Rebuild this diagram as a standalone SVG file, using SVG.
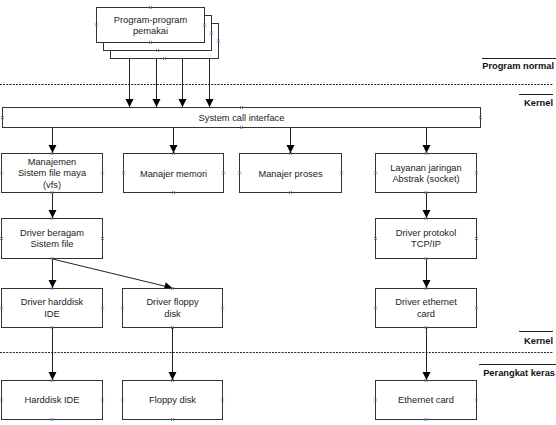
<svg xmlns="http://www.w3.org/2000/svg" xmlns:xlink="http://www.w3.org/1999/xlink" width="556" height="425" viewBox="0 0 556 425">
<style>
  .box{fill:#fff;stroke:#333;stroke-width:1}
  .t{font-family:"Liberation Sans",Arial,sans-serif;font-size:9.3px;fill:#222;text-anchor:middle}
  .lbl{font-family:"Liberation Sans",Arial,sans-serif;font-size:9.3px;font-weight:bold;fill:#111;text-anchor:end}
  .con{stroke:#222;stroke-width:1;fill:none}
  .dot{stroke:#222;stroke-width:1;stroke-dasharray:2 1.2;fill:none}
  .rule{stroke:#222;stroke-width:1}
  .cp{stroke:#6a6ad8;stroke-width:0.8;fill:none}
</style>
<defs>
  <marker id="ah" markerUnits="userSpaceOnUse" markerWidth="10" markerHeight="10" viewBox="0 0 10 10" refX="9" refY="5" orient="auto">
    <path d="M1,1 L9,5 L1,9 Z" fill="#000"/>
  </marker>
  <path id="x" class="cp" d="M-1.5,-1.5 L1.5,1.5 M-1.5,1.5 L1.5,-1.5"/>
</defs>
<rect width="556" height="425" fill="#fff"/>

<!-- layer separators -->
<g id="layers">
  <line class="dot" x1="0" y1="84.5" x2="553" y2="84.5"/>
  <line class="dot" x1="0" y1="352.5" x2="553" y2="352.5"/>
  <line class="rule" x1="482" y1="58.5" x2="556" y2="58.5"/>
  <text class="lbl" x="554" y="69">Program normal</text>
  <line class="rule" x1="519" y1="94.5" x2="553" y2="94.5"/>
  <text class="lbl" x="553" y="105.5">Kernel</text>
  <line class="rule" x1="519" y1="331.5" x2="553" y2="331.5"/>
  <text class="lbl" x="553" y="344">Kernel</text>
  <line class="rule" x1="479" y1="364.5" x2="556" y2="364.5"/>
  <text class="lbl" x="555" y="376">Perangkat keras</text>
</g>

<g id="connectors">
  <line class="con" x1="129.5" y1="59" x2="129.5" y2="107" marker-end="url(#ah)"/>
  <line class="con" x1="156.5" y1="59" x2="156.5" y2="107" marker-end="url(#ah)"/>
  <line class="con" x1="182.5" y1="59" x2="182.5" y2="107" marker-end="url(#ah)"/>
  <line class="con" x1="209.5" y1="59" x2="209.5" y2="107" marker-end="url(#ah)"/>
  <line class="con" x1="52.5" y1="128" x2="52.5" y2="153" marker-end="url(#ah)"/>
  <line class="con" x1="173.5" y1="128" x2="173.5" y2="153" marker-end="url(#ah)"/>
  <line class="con" x1="290.5" y1="128" x2="290.5" y2="153" marker-end="url(#ah)"/>
  <line class="con" x1="426.5" y1="128" x2="426.5" y2="153" marker-end="url(#ah)"/>
  <line class="con" x1="52.5" y1="193" x2="52.5" y2="218" marker-end="url(#ah)"/>
  <line class="con" x1="52.5" y1="259" x2="52.5" y2="288" marker-end="url(#ah)"/>
  <line class="con" x1="52.5" y1="259" x2="172.5" y2="288" marker-end="url(#ah)"/>
  <line class="con" x1="52.5" y1="328" x2="52.5" y2="380" marker-end="url(#ah)"/>
  <line class="con" x1="172.5" y1="328" x2="172.5" y2="380" marker-end="url(#ah)"/>
  <line class="con" x1="426.5" y1="193" x2="426.5" y2="218" marker-end="url(#ah)"/>
  <line class="con" x1="426.5" y1="259" x2="426.5" y2="288" marker-end="url(#ah)"/>
  <line class="con" x1="426.5" y1="328" x2="426.5" y2="380" marker-end="url(#ah)"/>
</g>

<g id="program">
  <rect class="box" x="110.5" y="23.5" width="108" height="35"/>
  <use xlink:href="#x" x="218.5" y="41"/><use xlink:href="#x" x="164.5" y="58.5"/>
  <rect class="box" x="103.5" y="15.5" width="108" height="35"/>
  <use xlink:href="#x" x="211.5" y="33"/><use xlink:href="#x" x="157.5" y="50.5"/>
  <rect class="box" x="96.5" y="7.5" width="108" height="35"/>
  <text class="t" x="150.5" y="22.5">Program-program</text>
  <text class="t" x="150.5" y="33.5">pemakai</text>
  <use xlink:href="#x" x="150.5" y="7.5"/><use xlink:href="#x" x="150.5" y="42.5"/>
  <use xlink:href="#x" x="96.5" y="25"/><use xlink:href="#x" x="204.5" y="25"/>
</g>

<g id="sci">
  <rect class="box" x="2.5" y="107.5" width="478" height="20"/>
  <text class="t" x="241.5" y="121">System call interface</text>
  <use xlink:href="#x" x="241.5" y="107.5"/><use xlink:href="#x" x="241.5" y="127.5"/>
  <use xlink:href="#x" x="2.5" y="117.5"/><use xlink:href="#x" x="480.5" y="117.5"/>
</g>

<g id="vfs">
  <rect class="box" x="1.5" y="153.5" width="101" height="39"/>
  <text class="t" x="52" y="165">Manajemen</text>
  <text class="t" x="52" y="176">Sistem file maya</text>
  <text class="t" x="52" y="187.5">(vfs)</text>
  <use xlink:href="#x" x="52" y="153.5"/><use xlink:href="#x" x="52" y="192.5"/>
  <use xlink:href="#x" x="1.5" y="173"/><use xlink:href="#x" x="102.5" y="173"/>
</g>

<g id="memori">
  <rect class="box" x="123.5" y="153.5" width="100" height="39"/>
  <text class="t" x="173.5" y="176.5">Manajer memori</text>
  <use xlink:href="#x" x="173.5" y="153.5"/><use xlink:href="#x" x="173.5" y="192.5"/>
  <use xlink:href="#x" x="123.5" y="173"/><use xlink:href="#x" x="223.5" y="173"/>
</g>

<g id="proses">
  <rect class="box" x="239.5" y="153.5" width="102" height="39"/>
  <text class="t" x="290.5" y="176.5">Manajer proses</text>
  <use xlink:href="#x" x="290.5" y="153.5"/><use xlink:href="#x" x="290.5" y="192.5"/>
  <use xlink:href="#x" x="239.5" y="173"/><use xlink:href="#x" x="341.5" y="173"/>
</g>

<g id="socket">
  <rect class="box" x="375.5" y="153.5" width="101" height="39"/>
  <text class="t" x="426" y="170.5">Layanan jaringan</text>
  <text class="t" x="426" y="182">Abstrak (socket)</text>
  <use xlink:href="#x" x="426" y="153.5"/><use xlink:href="#x" x="426" y="192.5"/>
  <use xlink:href="#x" x="375.5" y="173"/><use xlink:href="#x" x="476.5" y="173"/>
</g>

<g id="fsdriver">
  <rect class="box" x="1.5" y="218.5" width="101" height="40"/>
  <text class="t" x="52" y="235.5">Driver beragam</text>
  <text class="t" x="52" y="247">Sistem file</text>
  <use xlink:href="#x" x="52" y="218.5"/><use xlink:href="#x" x="52" y="258.5"/>
  <use xlink:href="#x" x="1.5" y="238.5"/><use xlink:href="#x" x="102.5" y="238.5"/>
</g>

<g id="tcpip">
  <rect class="box" x="375.5" y="218.5" width="101" height="40"/>
  <text class="t" x="426" y="235.5">Driver protokol</text>
  <text class="t" x="426" y="247">TCP/IP</text>
  <use xlink:href="#x" x="426" y="218.5"/><use xlink:href="#x" x="426" y="258.5"/>
  <use xlink:href="#x" x="375.5" y="238.5"/><use xlink:href="#x" x="476.5" y="238.5"/>
</g>

<g id="hddriver">
  <rect class="box" x="1.5" y="288.5" width="101" height="39"/>
  <text class="t" x="52" y="305">Driver harddisk</text>
  <text class="t" x="52" y="316.5">IDE</text>
  <use xlink:href="#x" x="52" y="288.5"/><use xlink:href="#x" x="52" y="327.5"/>
  <use xlink:href="#x" x="1.5" y="308"/><use xlink:href="#x" x="102.5" y="308"/>
</g>

<g id="fddriver">
  <rect class="box" x="122.5" y="288.5" width="100" height="39"/>
  <text class="t" x="172.5" y="305">Driver floppy</text>
  <text class="t" x="172.5" y="316.5">disk</text>
  <use xlink:href="#x" x="172.5" y="288.5"/><use xlink:href="#x" x="172.5" y="327.5"/>
  <use xlink:href="#x" x="122.5" y="308"/><use xlink:href="#x" x="222.5" y="308"/>
</g>

<g id="ethdriver">
  <rect class="box" x="375.5" y="288.5" width="101" height="39"/>
  <text class="t" x="426" y="305">Driver ethernet</text>
  <text class="t" x="426" y="316.5">card</text>
  <use xlink:href="#x" x="426" y="288.5"/><use xlink:href="#x" x="426" y="327.5"/>
  <use xlink:href="#x" x="375.5" y="308"/><use xlink:href="#x" x="476.5" y="308"/>
</g>

<g id="harddisk">
  <rect class="box" x="1.5" y="380.5" width="101" height="39"/>
  <text class="t" x="52" y="403">Harddisk IDE</text>
  <use xlink:href="#x" x="52" y="380.5"/><use xlink:href="#x" x="52" y="419.5"/>
  <use xlink:href="#x" x="1.5" y="400"/><use xlink:href="#x" x="102.5" y="400"/>
</g>

<g id="floppy">
  <rect class="box" x="122.5" y="380.5" width="100" height="39"/>
  <text class="t" x="172.5" y="403">Floppy disk</text>
  <use xlink:href="#x" x="172.5" y="380.5"/><use xlink:href="#x" x="172.5" y="419.5"/>
  <use xlink:href="#x" x="122.5" y="400"/><use xlink:href="#x" x="222.5" y="400"/>
</g>

<g id="ethernet">
  <rect class="box" x="375.5" y="380.5" width="101" height="39"/>
  <text class="t" x="426" y="403">Ethernet card</text>
  <use xlink:href="#x" x="426" y="380.5"/><use xlink:href="#x" x="426" y="419.5"/>
  <use xlink:href="#x" x="375.5" y="400"/><use xlink:href="#x" x="476.5" y="400"/>
</g>
</svg>
